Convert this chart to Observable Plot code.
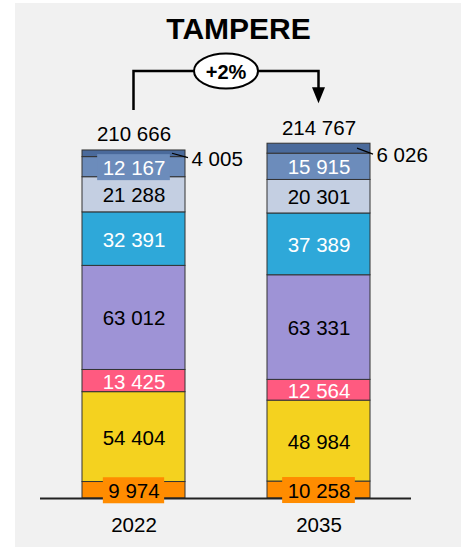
<!DOCTYPE html>
<html><head><meta charset="utf-8">
<script src="https://cdn.jsdelivr.net/npm/d3@7"></script>
<script src="https://cdn.jsdelivr.net/npm/@observablehq/plot@0.6"></script>
<style>
html,body{margin:0;padding:0;background:#fff;}
#panel{position:absolute;left:15px;top:3px;width:446px;height:544px;background:#f1f1f1;}
#chart{position:absolute;left:0;top:0;}
</style></head>
<body><div id="panel"></div><div id="chart"></div>
<script>
const title = "TAMPERE";
const years = ["2022", "2035"];
const segments = ["s1", "s2", "s3", "s4", "s5", "s6", "s7", "s8"]; // bottom to top
const values2022 = [9974, 54404, 13425, 63012, 32391, 21288, 12167, 4005];
const values2035 = [10258, 48984, 12564, 63331, 37389, 20301, 15915, 6026];
const totals = [210666, 214767];
const segColors = ["#FF8C00", "#F4D21F", "#FF5A80", "#9E93D6", "#2EA8D9", "#C4CFE2", "#6C8CBB", "#4A6A9B"];
const labelInk = ["black", "black", "white", "black", "white", "black", "white", "black"];
const outsideLabel = [false, false, false, false, false, false, false, true];
const boxedLabels = [["2022", "s7"], ["2022", "s1"], ["2035", "s1"]];

const FONT = "'Liberation Sans', Arial, sans-serif";
const FS = 20.5;
const fmt = d3.formatLocale({thousands: " ", grouping: [3], decimal: ","}).format(",d");

const valuesByYear = [values2022, values2035];
const data = years.flatMap((year, i) => segments.map((seg, j) => ({
  year, seg, value: valuesByYear[i][j], color: segColors[j], ink: labelInk[j],
  outside: outsideLabel[j],
  boxed: boxedLabels.some(([y, s]) => y === year && s === seg)
})));
const totalsData = years.map((year, i) => ({year, total: totals[i]}));
const change = Math.round((totals[1] / totals[0] - 1) * 100);
const changeLabel = (change >= 0 ? "+" : "") + change + "%";

const canvas = document.createElement("canvas").getContext("2d");
canvas.font = `${FS}px ${FONT}`;

function segGeom(scales) {
  const x = scales.x, y = scales.y;
  const bw = typeof x.bandwidth === "function" ? x.bandwidth() : 103;
  const out = [];
  years.forEach((year, i) => {
    let acc = 0;
    segments.forEach((seg, j) => {
      const v = valuesByYear[i][j];
      const d = data.find(e => e.year === year && e.seg === seg);
      out.push({d, xc: x(year) + bw / 2, bw, y0: y(acc), y1: y(acc + v), ym: y(acc + v / 2)});
      acc += v;
    });
  });
  return out;
}

const boxesMark = (index, scales) => {
  const g = d3.create("svg:g");
  for (const s of segGeom(scales)) {
    if (!s.d.boxed) continue;
    const w = canvas.measureText(fmt(s.d.value)).width + 10;
    g.append("rect").attr("x", s.xc - w / 2).attr("y", s.ym + 0.5 - 13)
      .attr("width", w).attr("height", 26).attr("fill", s.d.color);
  }
  return g.node();
};

const leadersMark = (index, scales) => {
  const g = d3.create("svg:g");
  for (const s of segGeom(scales)) {
    if (!s.d.outside) continue;
    const xr = s.xc + s.bw / 2;
    g.append("line").attr("x1", xr - 13).attr("y1", s.ym).attr("x2", xr + 3).attr("y2", s.y0 + 1)
      .attr("stroke", "black").attr("stroke-width", 1.2);
  }
  return g.node();
};

const bracketMark = (index, scales, values, dims) => {
  const x = scales.x, y = scales.y;
  const bw = typeof x.bandwidth === "function" ? x.bandwidth() : 103;
  const xa = x(years[0]) + bw / 2, xb = x(years[1]) + bw / 2;
  const top = dims.marginTop - 14;
  const yA = y(totals[0]) - 40, yB = y(totals[1]) - 40;
  const g = d3.create("svg:g");
  g.append("path").attr("d", `M${xa},${yA}V${top}H${xb}V${yB - 15}`)
    .attr("fill", "none").attr("stroke", "black").attr("stroke-width", 2.5).attr("stroke-linejoin", "miter");
  g.append("path").attr("d", `M${xb - 6.5},${yB - 16}L${xb + 6.5},${yB - 16}L${xb},${yB}Z`).attr("fill", "black");
  const cx = (xa + xb) / 2;
  g.append("ellipse").attr("cx", cx).attr("cy", top).attr("rx", 32).attr("ry", 17.5)
    .attr("fill", "white").attr("stroke", "black").attr("stroke-width", 2);
  g.append("text").attr("x", cx).attr("y", top + 1).attr("dy", "0.35em").attr("text-anchor", "middle")
    .attr("font-weight", "bold").attr("font-size", 20).attr("fill", "black").text(changeLabel);
  return g.node();
};

const chart = Plot.plot({
  width: 461,
  height: 547,
  marginTop: 85,
  marginBottom: 49,
  marginLeft: 40,
  marginRight: 50,
  style: {fontFamily: FONT, fontSize: FS + "px", background: "transparent", overflow: "visible"},
  x: {domain: years, paddingInner: 0.445, paddingOuter: 0.2225, axis: null},
  y: {domain: [0, 250000], axis: null},
  color: {type: "identity"},
  marks: [
    Plot.barY(data, Plot.stackY({x: "year", y: "value", fill: "color", stroke: "#333", strokeWidth: 1})),
    Plot.ruleY([0], {stroke: "#222", strokeWidth: 2}),
    boxesMark,
    Plot.text(data, Plot.stackY({
      x: "year", y: "value", text: d => d.outside ? null : fmt(d.value),
      fill: "ink", lineAnchor: "middle", dy: 1, fontSize: FS
    })),
    leadersMark,
    Plot.text(data, Plot.stackY1({
      x: "year", y: "value", text: d => d.outside ? fmt(d.value) : null,
      fill: "black", textAnchor: "start", lineAnchor: "middle", dx: 57.5, dy: 2, fontSize: FS
    })),
    Plot.text(totalsData, {x: "year", y: "total", text: d => fmt(d.total), lineAnchor: "bottom", dy: -9, fontSize: FS, fill: "black"}),
    bracketMark,
    Plot.text([title], {frameAnchor: "top", text: d => d, dx: 12.5, dy: -47, lineAnchor: "bottom", fontSize: 30, fontWeight: "bold", fill: "black"}),
    Plot.axisX({tickSize: 0, tickPadding: 19, fontSize: FS, label: null, fill: "black"})
  ]
});
document.getElementById("chart").append(chart);
</script>
</body></html>
